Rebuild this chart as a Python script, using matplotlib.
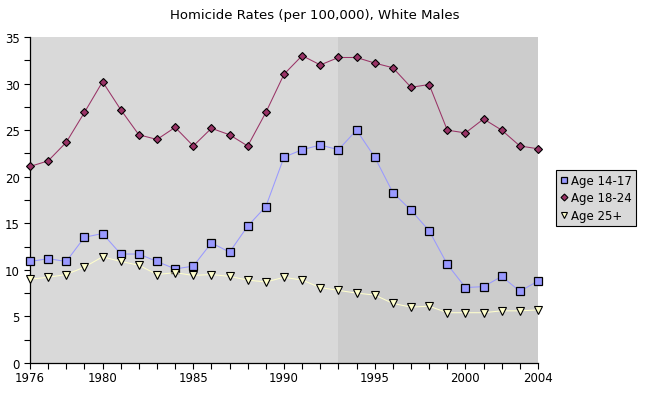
import matplotlib
matplotlib.use("Agg")
import matplotlib.pyplot as plt
from matplotlib.ticker import MultipleLocator

years = list(range(1976, 2005))
age_14_17 = [10.9, 11.2, 10.9, 13.5, 13.9, 11.7, 11.7, 10.9, 10.1, 10.4, 12.9,
             11.9, 14.7, 16.8, 22.1, 22.9, 23.4, 22.9, 25.0, 22.1, 18.3,
             16.4, 14.2, 10.6, 8.1, 8.2, 9.3, 7.7, 8.8]
age_18_24 = [21.1, 21.7, 23.7, 26.9, 30.2, 27.2, 24.5, 24.0, 25.3, 23.3, 25.2,
             24.5, 23.3, 26.9, 31.0, 33.0, 32.0, 32.8, 32.8, 32.2, 31.7,
             29.6, 29.9, 25.0, 24.7, 26.2, 25.0, 23.3, 23.0]
age_25_plus = [9.0, 9.2, 9.5, 10.3, 11.4, 10.9, 10.5, 9.5, 9.7, 9.4, 9.5,
               9.3, 8.9, 8.7, 9.2, 8.9, 8.1, 7.8, 7.5, 7.3, 6.4,
               6.0, 6.1, 5.4, 5.4, 5.4, 5.6, 5.6, 5.7]
shade_start = 1993
title = "Homicide Rates (per 100,000), White Males"
labels = ["Age 14-17", "Age 18-24", "Age 25+"]
xtick_labels = [1976, 1980, 1985, 1990, 1995, 2000, 2004]

W, H = 645, 410
fig = plt.figure(figsize=(W / 100, H / 100), dpi=100)
ax = fig.add_axes([30 / W, 1 - 364 / H, (538 - 30) / W, (364 - 38) / H])
ax.set_facecolor("#D9D9D9")
ax.axvspan(shade_start, years[-1], color="#CCCCCC", zorder=0, lw=0)

lw = 0.75
ax.plot(years, age_18_24, color="#993366", lw=lw, marker="D", ms=4.4,
        mfc="#993366", mec="black", mew=0.8, label=labels[1], zorder=3, clip_on=False)
ax.plot(years, age_14_17, color="#9999FF", lw=lw, marker="s", ms=5.6,
        mfc="#9999FF", mec="black", mew=0.9, label=labels[0], zorder=3, clip_on=False)
ax.plot(years, age_25_plus, color="#FFFFCC", lw=lw, marker="v", ms=5.8,
        mfc="#FFFFCC", mec="black", mew=0.8, label=labels[2], zorder=3, clip_on=False)

ax.set_xlim(years[0], years[-1])
ax.set_ylim(0, 35)
ax.yaxis.set_major_locator(MultipleLocator(5))
ax.yaxis.set_minor_locator(MultipleLocator(2.5))
ax.set_xticks(years, minor=True)
ax.set_xticks(xtick_labels)
ax.set_xticklabels([str(y) for y in xtick_labels])
ax.tick_params(axis="both", which="both", direction="out", color="black",
               labelsize=8.5, length=4, width=0.8)
ax.tick_params(axis="x", pad=2)
for s in ["top", "right"]:
    ax.spines[s].set_visible(False)
for s in ["left", "bottom"]:
    ax.spines[s].set_color("black")
    ax.spines[s].set_linewidth(0.9)

fig.text(315 / W, 1 - 15 / H, title, ha="center", va="center", fontsize=9.5)

handles, labs = ax.get_legend_handles_labels()
order = [1, 0, 2]
leg = fig.legend([handles[i] for i in order], [labs[i] for i in order],
                 loc="center", bbox_to_anchor=(596 / W, 1 - 199 / H),
                 fontsize=8.5, frameon=True, fancybox=False, edgecolor="black",
                 facecolor="#D9D9D9", framealpha=1, handlelength=0.6,
                 handletextpad=0.3, borderpad=0.4, labelspacing=0.35,
                 borderaxespad=0, markerscale=0.8)
for lh in leg.get_lines():
    lh.set_linestyle("none")
leg.get_frame().set_linewidth(0.8)

fig.savefig("out.png", dpi=100)
